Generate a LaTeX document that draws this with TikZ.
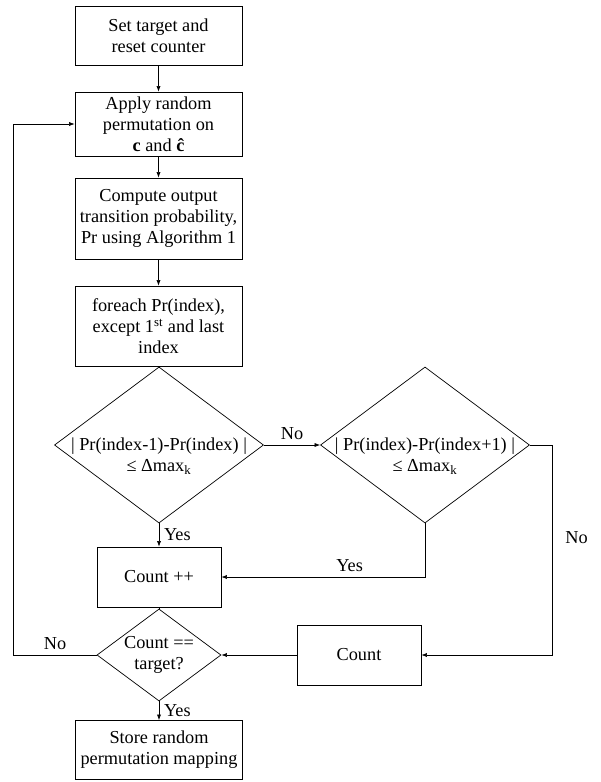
\documentclass[tikz,border=0pt]{standalone}
\usepackage{fontspec}
\setmainfont{Liberation Serif}
\usetikzlibrary{shapes.geometric, arrows.meta}

\begin{document}
\begin{tikzpicture}[x=0.025cm, y=-0.025cm, line width=0.5pt,
  every node/.style={font=\fontsize{13}{15}\selectfont},
  block/.style={draw, align=center, minimum width=4.175cm, inner sep=2pt},
  smallblock/.style={draw, align=center, minimum width=3.1cm, minimum height=1.5cm},
  decision/.style={draw, diamond, inner sep=0pt},
  flow/.style={-{Latex[length=4pt, width=3pt]}}]
  \useasboundingbox (0,0) rectangle (600,782);

  \node[block, minimum height=1.475cm] (set) at (158.5,35.5) {Set target and\\reset counter};
  \node[block, minimum height=1.6cm] (perm) at (158.5,124) {Apply random\\permutation on\\\textbf{c} and \textbf{ĉ}};
  \node[block, minimum height=2.025cm] (prob) at (158.5,218.5) {Compute output\\transition probability,\\Pr using Algorithm 1};
  \node[block, minimum height=2cm] (each) at (158.5,326) {foreach Pr(index),\\except 1\textsuperscript{st} and last\\index};

  \node[decision, minimum width=5.225cm, minimum height=3.9cm,
    label={[align=center, yshift=-8pt]center:{| Pr(index-1)-Pr(index) |\\≤ Δmax\textsubscript{k}}}] (left) at (159,445) {};
  \node[decision, minimum width=5.225cm, minimum height=3.9cm,
    label={[align=center, yshift=-8pt]center:{| Pr(index)-Pr(index+1) |\\≤ Δmax\textsubscript{k}}}] (right) at (425,445) {};

  \node[smallblock] (inc) at (159,577) {Count ++};
  \node[decision, minimum width=3.1cm, minimum height=2.3cm,
    label={[align=center]center:{Count ==\\target?}}] (done) at (159,655) {};
  \node[smallblock] (count) at (359,655) {Count};
  \node[block, minimum height=1.475cm] (store) at (159,750) {Store random\\permutation mapping};

  \draw[flow] (set) -- (perm);
  \draw[flow] (perm) -- (prob);
  \draw[flow] (prob) -- (each);
  \draw (each.south) -- (left.north);
  \draw[flow] (left.east) -- node[above] {No} (right.west);
  \draw[flow] (left.south) -- node[right] {Yes} (inc.north);
  \draw[flow] (right.south) |- node[pos=0.685, above] {Yes} (inc.east);
  \draw[flow] (right.east) -- ++(22,0) |- node[pos=0.22, right=6pt] {No} (count.east);
  \draw (inc.south) -- (done.north);
  \draw[flow] (count.west) -- (done.east);
  \draw[flow] (done.west) -- node[above] {No} ++(-83,0) |- (perm.west);
  \draw[flow] (done.south) -- node[right] {Yes} (store.north);
\end{tikzpicture}
\end{document}
